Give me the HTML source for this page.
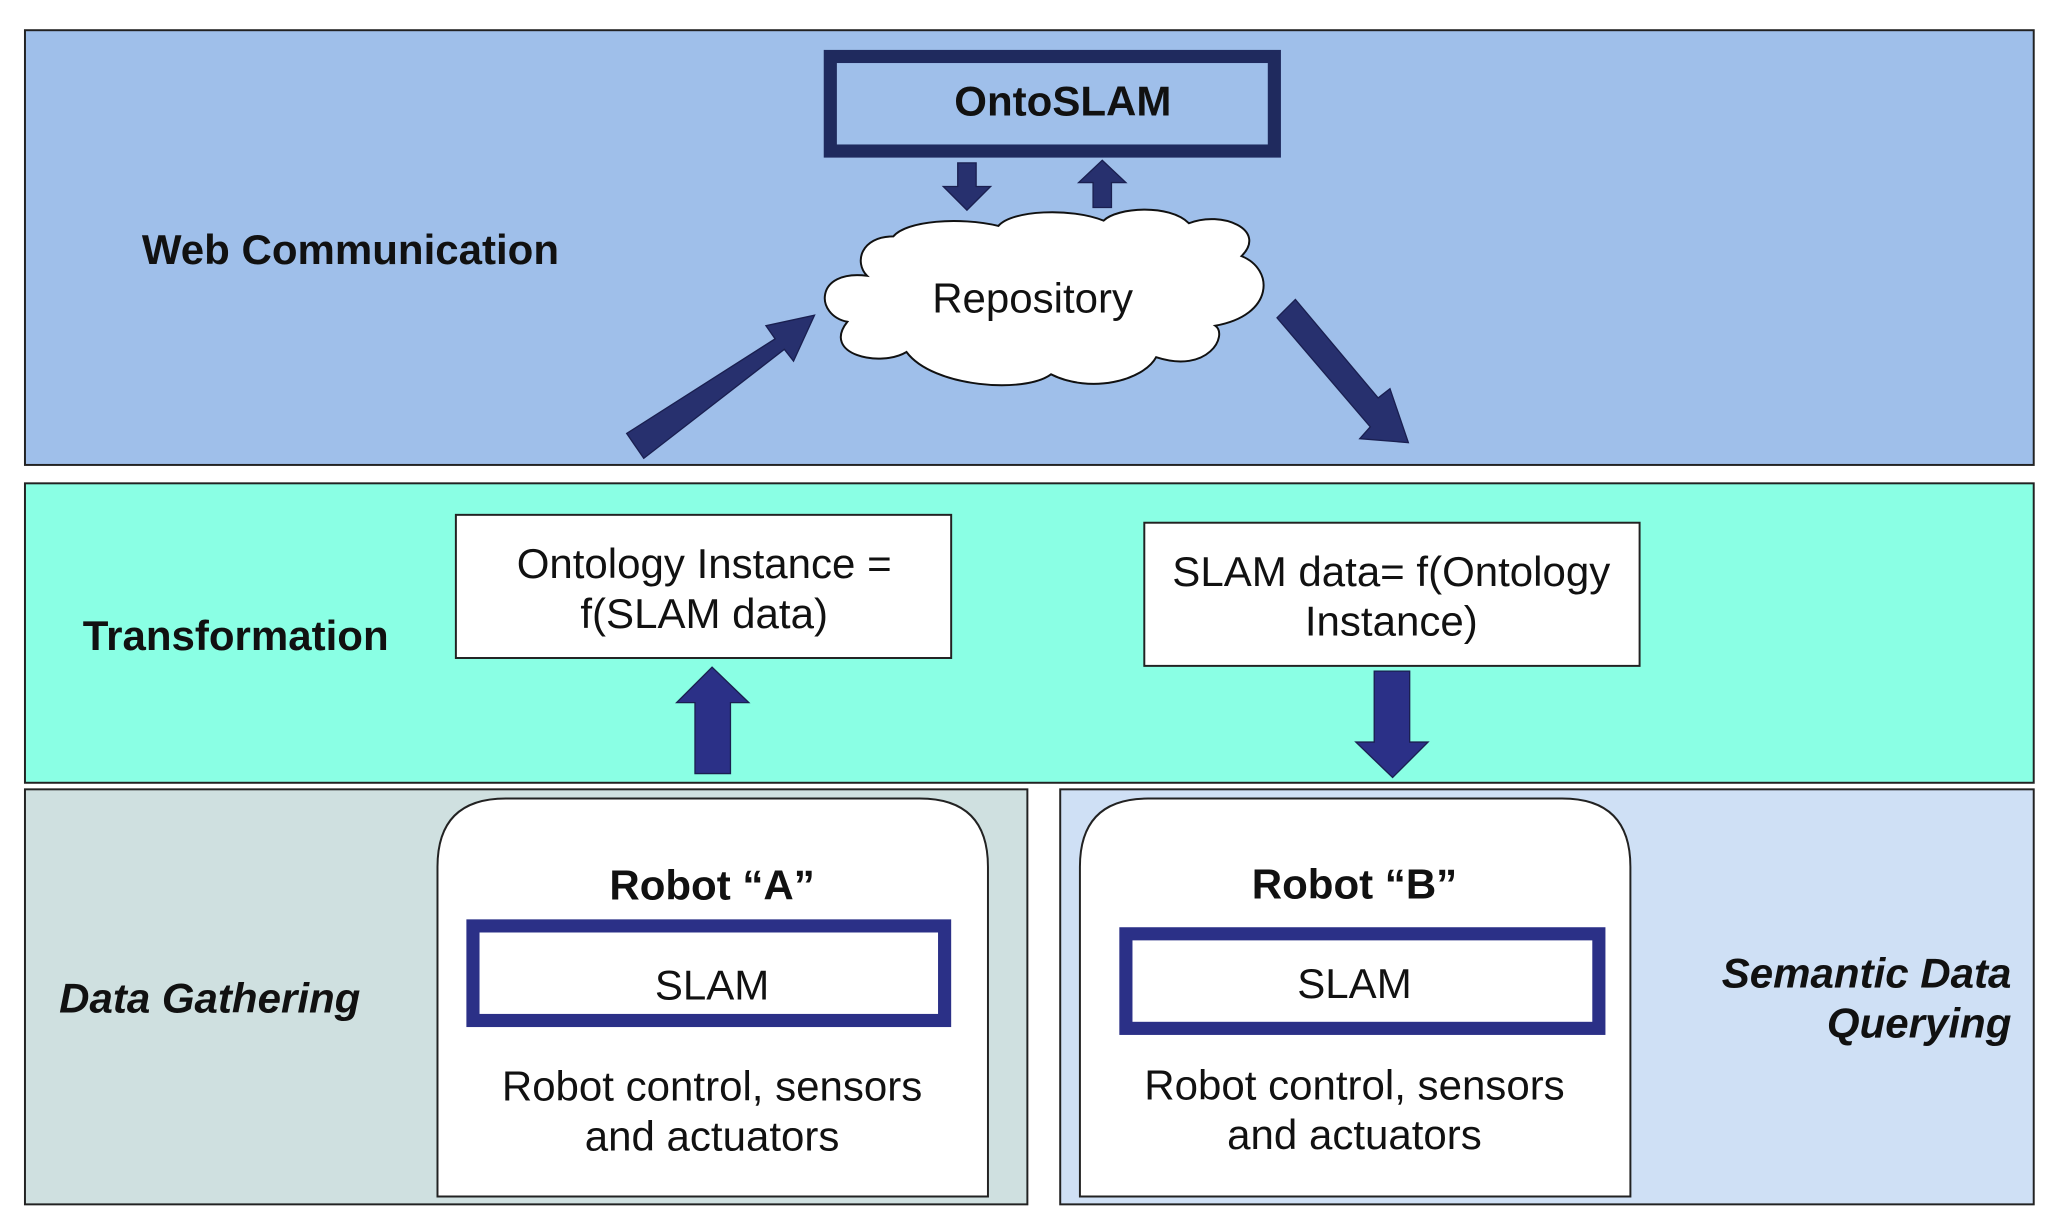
<!DOCTYPE html>
<html><head><meta charset="utf-8"><style>html,body{margin:0;padding:0;background:#fff}svg{display:block}</style></head>
<body>
<svg width="2060" height="1228" viewBox="0 0 1568 935" preserveAspectRatio="none" xmlns="http://www.w3.org/2000/svg" font-family="Liberation Sans, sans-serif">
<rect x="0" y="0" width="1568" height="935" fill="#fff"/>
<rect x="19" y="23" width="1529" height="331" fill="#9fbfea" stroke="#222" stroke-width="1.5"/>
<rect x="19" y="368" width="1529" height="228" fill="#8affe4" stroke="#222" stroke-width="1.5"/>
<rect x="19" y="601" width="763" height="316" fill="#cfe0e0" stroke="#222" stroke-width="1.5"/>
<rect x="807" y="601" width="741" height="316" fill="#cfe0f5" stroke="#222" stroke-width="1.5"/>

<rect x="632" y="43" width="338" height="72" fill="#9fbfea" stroke="#1f2a5e" stroke-width="10"/>
<text x="809" y="88" font-size="32" font-weight="bold" text-anchor="middle" fill="#111">OntoSLAM</text>

<polygon points="729,124 743,124 743,142 754,142 736,160 718,142 729,142" fill="#27306e" stroke="#1a1f50"/>
<polygon points="832,158 846,158 846,139 857,139 839,122 821,139 832,139" fill="#27306e" stroke="#1a1f50"/>

<g fill="#fff" stroke="#111" stroke-width="1.5">
<path d="M660,210 C620,205 620,240 645,245 C625,270 670,280 690,268 C710,295 780,300 800,285 C830,300 870,290 880,272 C920,285 935,255 925,248 C970,240 970,205 945,195 C965,175 930,160 905,170 C890,155 850,158 840,168 C815,158 770,160 760,172 C730,165 690,168 680,180 C655,180 650,200 660,210 Z"/>
</g>
<text x="786" y="238" font-size="32" text-anchor="middle" fill="#111">Repository</text>

<polygon points="477,330 590,258 583,248 620,240 604,275 597,266 490,349" fill="#27306e" stroke="#1a1f50"/>
<polygon points="972,242 986,228 1049,303 1058,296 1072,337 1035,334 1043,325" fill="#27306e" stroke="#1a1f50"/>

<text x="108" y="201" font-size="32" font-weight="bold" fill="#111">Web Communication</text>
<text x="63" y="495" font-size="32" font-weight="bold" fill="#111">Transformation</text>
<text x="45" y="771" font-size="32" font-weight="bold" font-style="italic" fill="#111">Data Gathering</text>
<text x="1531" y="752" font-size="32" font-weight="bold" font-style="italic" text-anchor="end" fill="#111">Semantic Data</text>
<text x="1531" y="790" font-size="32" font-weight="bold" font-style="italic" text-anchor="end" fill="#111">Querying</text>

<rect x="347" y="392" width="377" height="109" fill="#fff" stroke="#222" stroke-width="1.5"/>
<text x="536" y="440" font-size="32" text-anchor="middle" fill="#111">Ontology Instance =</text>
<text x="536" y="478" font-size="32" text-anchor="middle" fill="#111">f(SLAM data)</text>
<rect x="871" y="398" width="377" height="109" fill="#fff" stroke="#222" stroke-width="1.5"/>
<text x="1059" y="446" font-size="32" text-anchor="middle" fill="#111">SLAM data= f(Ontology</text>
<text x="1059" y="484" font-size="32" text-anchor="middle" fill="#111">Instance)</text>

<polygon points="529,589 556,589 556,535 570,535 542,508 515,535 529,535" fill="#2b3087" stroke="#1a1f50"/>
<polygon points="1046,511 1073,511 1073,565 1087,565 1060,592 1032,565 1046,565" fill="#2b3087" stroke="#1a1f50"/>

<path d="M333,911 L333,660 Q333,608 385,608 L700,608 Q752,608 752,660 L752,911 Z" fill="#fff" stroke="#222" stroke-width="1.5"/>
<path d="M822,911 L822,660 Q822,608 874,608 L1189,608 Q1241,608 1241,660 L1241,911 Z" fill="#fff" stroke="#222" stroke-width="1.5"/>

<text x="542" y="685" font-size="32" font-weight="bold" text-anchor="middle" fill="#111">Robot “A”</text>
<rect x="360" y="705" width="359" height="72" fill="#fff" stroke="#2b3087" stroke-width="10"/>
<text x="542" y="761" font-size="32" text-anchor="middle" fill="#111">SLAM</text>
<text x="542" y="838" font-size="32" text-anchor="middle" fill="#111">Robot control, sensors</text>
<text x="542" y="876" font-size="32" text-anchor="middle" fill="#111">and actuators</text>

<text x="1031" y="684" font-size="32" font-weight="bold" text-anchor="middle" fill="#111">Robot “B”</text>
<rect x="857" y="711" width="360" height="72" fill="#fff" stroke="#2b3087" stroke-width="10"/>
<text x="1031" y="760" font-size="32" text-anchor="middle" fill="#111">SLAM</text>
<text x="1031" y="837" font-size="32" text-anchor="middle" fill="#111">Robot control, sensors</text>
<text x="1031" y="875" font-size="32" text-anchor="middle" fill="#111">and actuators</text>
</svg>
</body></html>
